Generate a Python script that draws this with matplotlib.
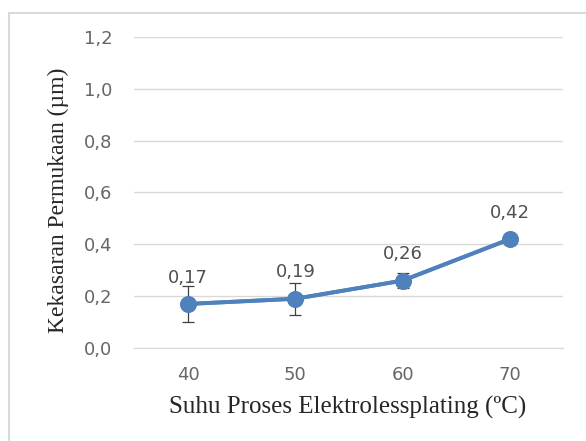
import matplotlib
matplotlib.use("Agg")
import matplotlib.pyplot as plt
from matplotlib.lines import Line2D
from matplotlib.ticker import FuncFormatter

suhu = ["40", "50", "60", "70"]
kekasaran = [0.17, 0.19, 0.26, 0.42]
galat = [0.07, 0.062, 0.03, 0.015]

blue = "#4F81BD"
grid_c = "#D9D9D9"
tick_c = "#666666"

fig = plt.figure(figsize=(5.86, 4.41), dpi=100)
ax = fig.add_axes([0.2295, 0.2109, 0.732, 0.7052])

x = list(range(len(suhu)))
ax.errorbar(x, kekasaran, yerr=galat, color=blue, lw=2.8, marker="o", ms=11,
            ecolor="#404040", elinewidth=0.9, capsize=4, capthick=0.9, zorder=3)
ax.plot(x, kekasaran, color=blue, lw=2.8, marker="o", ms=11, zorder=4)

# label nilai di atas titik
for xi, v in zip(x, kekasaran):
    ax.annotate(f"{v:.2f}".replace(".", ","), (xi, v), xytext=(0, 19),
                textcoords="offset points", ha="center", va="center",
                fontsize=13, color="#505050", family="DejaVu Sans")

ax.set_xlim(-0.5, 3.5)
ax.set_ylim(0, 1.2)
ax.set_xticks(x)
ax.set_xticklabels(suhu)
ax.set_yticks([0, 0.2, 0.4, 0.6, 0.8, 1.0, 1.2])
ax.yaxis.set_major_formatter(FuncFormatter(lambda v, p: f"{v:.1f}".replace(".", ",")))
ax.grid(axis="y", color=grid_c, lw=1)
ax.set_axisbelow(True)
for s in ["top", "right", "left"]:
    ax.spines[s].set_visible(False)
ax.spines["bottom"].set_color(grid_c)
ax.tick_params(length=0, labelsize=13, labelcolor=tick_c)
ax.tick_params(axis="x", pad=13)
ax.tick_params(axis="y", pad=16)

fig.text(348 / 586, 1 - 407 / 441, "Suhu Proses Elektrolessplating (\u00baC)",
         ha="center", va="center", fontsize=18, family="Liberation Serif", color="#262626")
fig.text(58 / 586, 1 - 200 / 441, "Kekasaran Permukaan (µm)", rotation=90,
         ha="center", va="center", fontsize=17, family="Liberation Serif", color="#262626")

# bingkai chart
fig.add_artist(Line2D([9 / 586, 9 / 586], [0, 1 - 13 / 441], color=grid_c, lw=1.5))
fig.add_artist(Line2D([9 / 586, 1], [1 - 13 / 441, 1 - 13 / 441], color=grid_c, lw=1.5))

fig.savefig("out.png", dpi=100)
